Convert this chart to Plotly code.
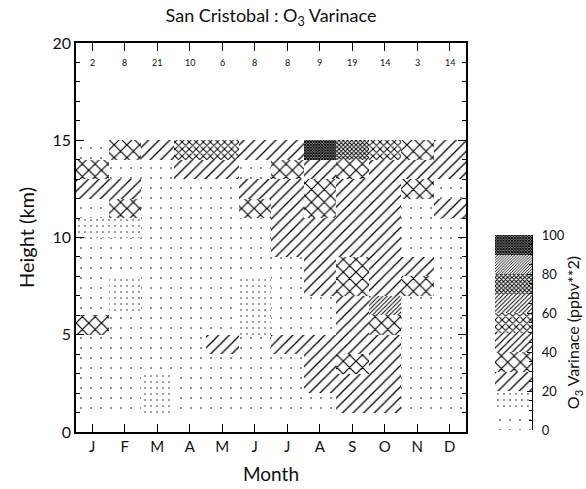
import plotly.graph_objects as go

# Month labels along the x axis
months = ["J", "F", "M", "A", "M", "J", "J", "A", "S", "O", "N", "D"]

# Lower edge (km) of each 1 km layer, 1-2 km up to 14-15 km
layer_base = [1, 2, 3, 4, 5, 6, 7, 8, 9, 10, 11, 12, 13, 14]

# O3 variance (ppbv**2) per layer, listed from the 1-2 km layer upward
jan = [5, 5, 5, 5, 35, 5, 5, 5, 5, 15, 5, 25, 35, 5]
feb = [5, 5, 5, 5, 5, 15, 15, 5, 5, 15, 35, 25, 5, 35]
mar = [15, 15, 5, 5, 5, 5, 5, 5, 5, 5, 5, 5, 5, 25]
apr = [5, 5, 5, 5, 5, 5, 5, 5, 5, 5, 5, 5, 25, 55]
may = [5, 5, 5, 25, 5, 5, 5, 5, 5, 5, 5, 5, 25, 55]
jun = [5, 5, 5, 5, 15, 15, 15, 5, 5, 5, 35, 25, 5, 25]
jul = [5, 5, 5, 25, 5, 5, 5, 5, 25, 25, 25, 25, 35, 25]
aug = [5, 25, 25, 25, 5, 5, 25, 25, 25, 25, 35, 35, 25, 95]
sep = [25, 25, 35, 25, 25, 25, 35, 35, 25, 25, 25, 25, 35, 75]
octo = [25, 25, 25, 25, 35, 65, 25, 25, 25, 25, 25, 25, 25, 55]
nov = [5, 5, 5, 5, 5, 5, 35, 25, 5, 5, 5, 35, 25, 35]
dec = [5, 5, 5, 5, 5, 5, 5, 5, 5, 5, 25, 5, 25, 25]

# Number of soundings per month, printed along the top
soundings = [2, 8, 21, 10, 6, 8, 8, 9, 19, 14, 3, 14]

# Contour levels of the fill key
key_levels = [0, 10, 20, 30, 40, 50, 60, 70, 80, 90]
key_ticks = [0, 20, 40, 60, 80, 100]

# Fill style for each 10 ppbv**2 band: (shape, tile size, solidity)
band_style = [
    (".", 10, 0.02),
    (".", 6, 0.04),
    ("/", 7.5, 0.17),
    ("x", 9, 0.25),
    ("/", 5, 0.22),
    ("x", 5, 0.36),
    ("/", 3, 0.33),
    ("x", 3, 0.55),
    ("/", 2, 0.45),
    ("x", 2, 0.80),
]


def band(v):
    return min(int(v // 10), 9)


columns = [jan, feb, mar, apr, may, jun, jul, aug, sep, octo, nov, dec]

xs, bases, shapes, sizes, sols = [], [], [], [], []
for m, col in enumerate(columns, start=1):
    for b, v in zip(layer_base, col):
        s = band_style[band(v)]
        xs.append(m)
        bases.append(b)
        shapes.append(s[0])
        sizes.append(s[1])
        sols.append(s[2])

FONT = "Lato"
INK = "#111111"


def pattern_marker(shp, siz, sol):
    return dict(
        color="white",
        line=dict(width=0),
        pattern=dict(shape=shp, size=siz, solidity=sol, fgcolor="black",
                     fgopacity=1, bgcolor="white", fillmode="overlay"),
    )


fig = go.Figure()

fig.add_trace(go.Bar(
    x=xs, y=[1] * len(xs), base=bases, width=1.0,
    marker=pattern_marker(shapes, sizes, sols),
    hoverinfo="skip", showlegend=False,
))

# Fill key on its own axes
k_shapes = [band_style[band(v)][0] for v in key_levels]
k_sizes = [band_style[band(v)][1] for v in key_levels]
k_sols = [band_style[band(v)][2] for v in key_levels]
fig.add_trace(go.Bar(
    x=[0.5] * len(key_levels), y=[10] * len(key_levels), base=key_levels,
    width=1.0, xaxis="x2", yaxis="y2",
    marker=pattern_marker(k_shapes, k_sizes, k_sols),
    hoverinfo="skip", showlegend=False,
))

for m, n in enumerate(soundings, start=1):
    fig.add_annotation(x=m, y=19, xref="x", yref="y", text=str(n),
                       showarrow=False, font=dict(family=FONT, size=9, color=INK))

L, R, T, B = 76, 0, 43, 57
W, H = 586, 489
pw = W - L - R
ph = H - T - B

axis_common = dict(showline=True, linecolor="black", linewidth=1.5,
                   showgrid=False, zeroline=False)

fig.update_layout(
    width=W, height=H,
    margin=dict(l=L, r=R, t=T, b=B),
    paper_bgcolor="white", plot_bgcolor="white",
    barmode="overlay", bargap=0,
    font=dict(family=FONT, color=INK),
    title=dict(text="San Cristobal : O<sub>3</sub> Varinace",
               x=271 / W, xref="container", xanchor="center",
               y=1 - 16 / H, yref="container", yanchor="middle",
               font=dict(family=FONT, size=18, color=INK)),
    xaxis=dict(domain=[0, 390 / pw], range=[0.5, 12.5],
               tickmode="array", tickvals=list(range(1, 13)), ticktext=months,
               ticks="inside", ticklen=8, tickcolor="black", mirror="allticks",
               tickfont=dict(size=15),
               title=dict(text="Month", font=dict(size=19), standoff=14),
               **axis_common),
    yaxis=dict(range=[0, 20], tickmode="array", tickvals=[0, 5, 10, 15, 20],
               ticks="inside", ticklen=8, tickcolor="black", mirror="allticks",
               minor=dict(dtick=1, ticks="inside", ticklen=4, tickcolor="black"),
               tickfont=dict(size=16),
               title=dict(text="Height (km)", font=dict(size=20), standoff=12),
               **axis_common),
    xaxis2=dict(domain=[(495 - L) / pw, (532 - L) / pw], anchor="y2",
                range=[0, 1], visible=False),
    yaxis2=dict(domain=[2 / ph, 197 / ph], anchor="x2", side="right",
                range=[0, 100], tickmode="array", tickvals=key_ticks,
                ticks="inside", ticklen=5, tickcolor="black",
                minor=dict(dtick=5, ticks="inside", ticklen=3, tickcolor="black"),
                tickfont=dict(size=13), ticklabelstandoff=6,
                title=dict(text="O<sub>3</sub> Varinace (ppbv**2)",
                           font=dict(size=16), standoff=4),
                showline=True, linecolor="black", linewidth=1.2,
                showgrid=False, zeroline=False),
)

fig.write_html("out.html")
